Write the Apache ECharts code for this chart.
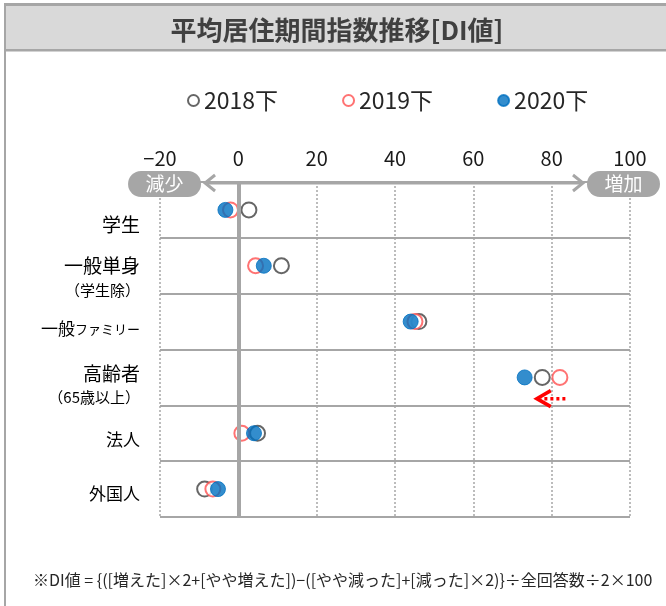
<!DOCTYPE html>
<html><head><meta charset="utf-8">
<script src="https://cdn.jsdelivr.net/npm/echarts/dist/echarts.min.js"></script>
<style>html,body{margin:0;padding:0;background:#fff}#c{width:666px;height:606px}</style>
</head><body><div id="c"></div>
<script>
// ---- data ----
const categories = ['学生', '一般単身（学生除）', '一般ファミリー', '高齢者（65歳以上）', '法人', '外国人'];
const seriesNames = ['2018下', '2019下', '2020下'];
const v2018 = [2.7, 11.0, 46.1, 77.6, 4.9, -8.6];
const v2019 = [-2.0, 4.4, 45.1, 82.1, 0.9, -6.5];
const v2020 = [-3.3, 6.5, 44.0, 73.1, 4.0, -5.2];
const xMin = -20, xMax = 100, xStep = 20;
const titleText = '平均居住期間指数推移[DI値]';
const leftTag = '減少', rightTag = '増加';
const footnote = '※DI値 = {([増えた]×2+[やや増えた])−([やや減った]+[減った]×2)}÷全回答数÷2×100';
const arrowSpan = [-8.5, 88];      // grey axis arrow extent (axis units)
const noteArrow = [83.5, 76.2];    // red dotted arrow in 高齢者 row (axis units)

// category label lines (text shown left of each row)
const labelLines = [
  [{t: '{a|学生}', dy: 14.5}],
  [{t: '{a|一般単身}', dy: 0}, {t: '{s|（学生除）}', dy: 24.5}],
  [{t: '{m|一般}{k|ファミリー}', dy: 7}],
  [{t: '{a|高齢者}', dy: -3.5}, {t: '{s|（65歳以上）}', dy: 19.5}],
  [{t: '{m|法人}', dy: 6}],
  [{t: '{n|外国人}', dy: 4}]
];

const GRID = {left: 160, right: 36, top: 182, bottom: 89};
const grey = '#a6a6a6';
const FONT = '"Noto Sans CJK JP", "Noto Sans", sans-serif';

const chart = echarts.init(document.getElementById('c'), null, {renderer: 'canvas'});
const mk = vals => vals.map((v, i) => [v, i]);

chart.setOption({
  animation: false,
  textStyle: {fontFamily: FONT},
  grid: GRID,
  legend: {
    data: seriesNames,
    left: 182, top: 84,
    itemWidth: 11, itemHeight: 11, itemGap: 64,
    icon: 'circle',
    textStyle: {fontSize: 23, color: '#262626', fontFamily: FONT}
  },
  xAxis: {
    type: 'value', position: 'top', min: xMin, max: xMax, interval: xStep,
    axisLine: {show: false}, axisTick: {show: false},
    axisLabel: {fontSize: 20, color: '#1a1a1a', margin: 14,
      formatter: v => (v < 0 ? '−' + Math.abs(v) : String(v))},
    splitLine: {show: true, lineStyle: {type: [2, 2], color: grey, width: 1.5}}
  },
  yAxis: {
    type: 'category', data: categories, inverse: true,
    axisLine: {show: false}, axisTick: {show: false},
    splitLine: {show: true, lineStyle: {color: grey, width: 2}},
    axisLabel: {show: false}
  },
  series: [
    {type: 'scatter', name: '_zero', data: [], z: 1, silent: true,
      markLine: {silent: true, symbol: 'none', label: {show: false},
        lineStyle: {color: grey, width: 4, type: 'solid'},
        data: [{xAxis: 0}]}},
    {type: 'scatter', name: seriesNames[0], data: mk(v2018), symbolSize: 15, z: 3,
      itemStyle: {color: '#fff', borderColor: '#404040', borderWidth: 2}},
    {type: 'scatter', name: seriesNames[1], data: mk(v2019), symbolSize: 15, z: 4,
      itemStyle: {color: '#fff', borderColor: '#ff5050', borderWidth: 2}},
    {type: 'scatter', name: seriesNames[2], data: mk(v2020), symbolSize: 15, z: 5,
      itemStyle: {color: '#0070c0', borderColor: '#0070c0', borderWidth: 1}}
  ]
});

// decorations computed from axes
const px = (x, y) => chart.convertToPixel({gridIndex: 0}, [x, y]);
const axisY = GRID.top + 1;
const a0 = px(arrowSpan[0], 0)[0], a1 = px(arrowSpan[1], 0)[0];
const rowH = px(0, 1)[1] - px(0, 0)[1];
const senior = px(noteArrow[0], 3), tip = px(noteArrow[1], 3);
const ny = senior[1] + rowH * 0.38;

const rich = {
  a: {fontSize: 19, color: '#404040', fontFamily: FONT},
  m: {fontSize: 17, color: '#404040', fontFamily: FONT},
  n: {fontSize: 17, color: '#404040', fontFamily: FONT},
  k: {fontSize: 13, color: '#404040', fontFamily: FONT},
  s: {fontSize: 15, color: '#404040', fontFamily: FONT}
};
const labelGraphics = [];
labelLines.forEach((lines, i) => {
  const cy = px(0, i)[1];
  lines.forEach(l => labelGraphics.push({
    type: 'text', x: GRID.left - 20, y: cy + l.dy,
    style: {text: l.t, rich: rich, align: 'right', verticalAlign: 'middle', fontFamily: FONT}
  }));
});

chart.setOption({
  graphic: [
    // frame
    {type: 'rect', shape: {x: 4, y: 3, width: 700, height: 48}, style: {fill: '#d9d9d9'}, z: -10},
    {type: 'rect', shape: {x: 4, y: 3, width: 700, height: 3}, style: {fill: grey}, z: -9},
    {type: 'rect', shape: {x: 4, y: 49, width: 700, height: 2.5}, style: {fill: grey}, z: -9},
    {type: 'rect', shape: {x: 4, y: 3, width: 2, height: 610}, style: {fill: grey}, z: -9},
    {type: 'text', x: 337, y: 30, style: {text: titleText, fill: '#404040', fontSize: 26, fontWeight: 'bold',
      align: 'center', verticalAlign: 'middle', fontFamily: FONT}},
    // grey axis arrow
    {type: 'polyline', shape: {points: [[a0, axisY], [a1, axisY]]}, style: {stroke: grey, lineWidth: 3}, z: 20},
    {type: 'polyline', shape: {points: [[a0 + 10, axisY - 8], [a0, axisY], [a0 + 10, axisY + 8]]}, style: {stroke: grey, lineWidth: 3, fill: null}, z: 20},
    {type: 'polyline', shape: {points: [[a1 - 10, axisY - 8], [a1, axisY], [a1 - 10, axisY + 8]]}, style: {stroke: grey, lineWidth: 3, fill: null}, z: 20},
    // tags
    {type: 'rect', shape: {x: a0 - 77, y: axisY - 12, width: 73, height: 26, r: 13}, style: {fill: grey}, z: 20},
    {type: 'text', x: a0 - 40.5, y: axisY + 1, style: {text: leftTag, fill: '#fff', fontSize: 19, align: 'center', verticalAlign: 'middle',
      fontFamily: FONT}, z: 21},
    {type: 'rect', shape: {x: a1 + 4, y: axisY - 12, width: 73, height: 26, r: 13}, style: {fill: grey}, z: 20},
    {type: 'text', x: a1 + 40.5, y: axisY + 1, style: {text: rightTag, fill: '#fff', fontSize: 19, align: 'center', verticalAlign: 'middle',
      fontFamily: FONT}, z: 21},
    // red note arrow
    {type: 'polyline', shape: {points: [[senior[0], ny], [tip[0] + 4, ny]]}, style: {stroke: '#ff0000', lineWidth: 3.5, lineDash: [3, 3]}, z: 20},
    {type: 'polyline', shape: {points: [[tip[0] + 14, ny - 8], [tip[0], ny], [tip[0] + 14, ny + 8]]}, style: {stroke: '#ff0000', lineWidth: 3.5, fill: null}, z: 20},
    // footnote
    {type: 'text', x: 33, y: 580, style: {text: footnote, fill: '#262626', fontSize: 16, verticalAlign: 'middle',
      fontFamily: FONT}}
  ].concat(labelGraphics)
});
</script>
</body></html>
